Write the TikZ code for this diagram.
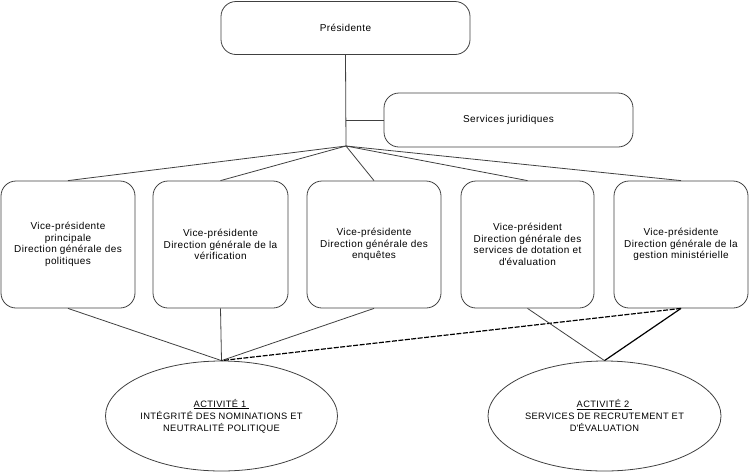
\documentclass[tikz,border=0pt]{standalone}
\usepackage{fontspec}
\setmainfont{Liberation Sans}[LetterSpace=4]
\usetikzlibrary{shapes.geometric}
\definecolor{ln}{HTML}{404040}
\begin{document}
\begin{tikzpicture}[x=1pt,y=-1pt,
  box/.style={draw=ln,line width=0.8pt,rounded corners=15pt,align=center,inner sep=0pt,
    font=\fontsize{10}{11.5}\selectfont},
  vp/.style={box,minimum width=134pt,minimum height=127pt},
  act/.style={draw=ln,line width=0.8pt,ellipse,inner sep=0pt,minimum width=232pt,minimum height=110pt,
    align=center,font=\fontsize{9.3}{12}\selectfont},
  conn/.style={draw=ln,line width=0.8pt},
  thickconn/.style={draw=black,line width=1.2pt},
  dashconn/.style={draw=black,line width=1.2pt,dash pattern=on 5pt off 1.5pt}]
\useasboundingbox (0,0) rectangle (749,472);
\node[box,minimum width=249pt,minimum height=53pt] (pres) at (345.5,28) {Présidente};
\node[box,minimum width=249pt,minimum height=54pt] (sj) at (508.5,120) {Services juridiques};
\coordinate (hub) at (346,146);
\node[vp] (vp1) at (68,244.5) {Vice-présidente\\principale\\Direction générale des\\politiques};
\node[vp,minimum width=135pt] (vp2) at (220.5,244.5) {Vice-présidente\\Direction générale de la\\vérification};
\node[vp] (vp3) at (374,244.5) {Vice-présidente\\Direction générale des\\enquêtes};
\node[vp,minimum width=133pt] (vp4) at (527.5,244.5) {Vice-président\\Direction générale des\\services de dotation et\\d\textquotesingle évaluation};
\node[vp] (vp5) at (681,244.5) {Vice-présidente\\Direction générale de la\\gestion ministérielle};
\node[act] (act1) at (221.5,416) {\underline{ACTIVITÉ 1\ }\\INTÉGRITÉ DES NOMINATIONS ET\\NEUTRALITÉ POLITIQUE};
\node[act,minimum width=233pt] (act2) at (604.5,416) {\underline{ACTIVITÉ 2\ }\\SERVICES DE RECRUTEMENT ET\\D\textquotesingle ÉVALUATION};
\draw[conn] (pres.south) -- (hub);
\draw[conn] (hub |- sj.west) -- (sj.west);
\foreach \b in {vp1,vp2,vp3,vp4,vp5} \draw[conn] (hub) -- (\b.north);
\draw[conn] (vp1.south) -- (act1.north);
\draw[conn] (vp2.south) -- (act1.north);
\draw[conn] (vp3.south) -- (act1.north);
\draw[dashconn] (vp5.south) -- (act1.north);
\draw[conn] (vp4.south) -- (act2.north);
\draw[thickconn] (vp5.south) -- (act2.north);
\end{tikzpicture}
\end{document}
